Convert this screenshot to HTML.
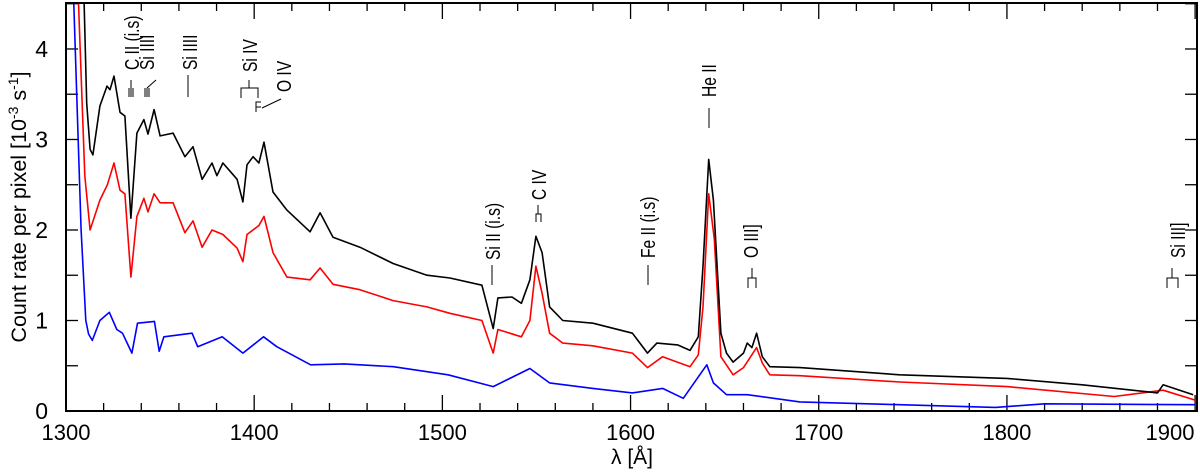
<!DOCTYPE html>
<html><head><meta charset="utf-8"><style>
html,body{margin:0;padding:0;background:#fff;}
svg{display:block;font-family:"Liberation Sans",sans-serif;}
.ann{font-family:"Liberation Sans",sans-serif;font-size:19px;fill:#000;}
</style></head><body>
<svg id="chart" width="1200" height="475" viewBox="0 0 1200 475">
<g id="grid"></g>
<g id="series"></g>
<g id="ann"></g>
<rect x="66" y="3" width="1131" height="408" fill="none" stroke="#000" stroke-width="2"/>
<text x="632" y="464" font-size="21" text-anchor="middle">λ [Å]</text>
<text transform="translate(26,207) rotate(-90)" font-size="21.5" text-anchor="middle">Count rate per pixel  [10<tspan dy="-8" font-size="14">-3</tspan><tspan dy="8"> s</tspan><tspan dy="-8" font-size="14">-1</tspan><tspan dy="8">]</tspan></text>
</svg>
<script>
const xTicks=[1300,1400,1500,1600,1700,1800,1900];
const yTicks=[0,1,2,3,4];
const blackLam=[1309.5,1311,1312.8,1314.3,1318,1321.8,1323.4,1325.5,1328.7,1331.3,1334.5,1337.7,1341.4,1343.6,1346.8,1350,1356.9,1363.2,1367.5,1372.3,1377.6,1380.2,1383.4,1390.9,1394,1396.2,1399.4,1402.5,1405.2,1410,1417.4,1429.7,1435,1441.9,1456.2,1473.8,1491.8,1504,1521,1527,1529.5,1537,1542,1546.5,1549.7,1553,1557,1564,1580,1601,1609,1614,1625,1631.6,1636,1638.5,1641.5,1644,1648,1651,1654.5,1660,1662,1664.5,1667,1670,1674,1690,1743,1800,1840,1880,1883,1899];
const blackVal=[4.6,3.4,2.89,2.83,3.37,3.59,3.55,3.7,3.3,3.26,2.13,3.07,3.22,3.06,3.33,3.04,3.07,2.81,2.92,2.56,2.74,2.6,2.74,2.56,2.31,2.72,2.81,2.74,2.97,2.42,2.22,1.98,2.19,1.92,1.81,1.63,1.5,1.47,1.39,0.91,1.25,1.26,1.19,1.45,1.93,1.75,1.15,1.0,0.97,0.86,0.64,0.75,0.73,0.67,0.82,1.6,2.78,2.33,0.86,0.64,0.54,0.64,0.75,0.7,0.86,0.6,0.49,0.48,0.4,0.36,0.29,0.2,0.29,0.18];
const redLam=[1306.5,1310,1312.8,1318,1322,1325.5,1328.7,1331.3,1334.5,1337.7,1341.4,1343.6,1346.8,1350,1356.9,1363.2,1367.5,1372.3,1377.6,1383.4,1390.9,1394,1396.2,1402.5,1405.2,1410,1417.4,1429.7,1435,1441.9,1456.2,1473.8,1491.8,1504,1521,1527,1529.5,1542,1546.5,1549.7,1553,1557,1564,1580,1601,1609,1617,1631.6,1636,1638.5,1641.5,1644.5,1648,1654.5,1660,1667,1670,1674,1690,1743,1800,1857,1883,1900];
const redVal=[4.6,2.6,2.0,2.33,2.5,2.74,2.44,2.4,1.48,2.15,2.35,2.2,2.4,2.3,2.3,1.97,2.1,1.81,2.0,1.95,1.8,1.65,1.95,2.05,2.15,1.75,1.48,1.45,1.58,1.4,1.34,1.22,1.15,1.08,1.0,0.64,0.9,0.82,1.0,1.6,1.3,0.86,0.75,0.72,0.64,0.48,0.6,0.49,0.62,1.15,2.4,1.9,0.6,0.4,0.48,0.7,0.53,0.4,0.39,0.32,0.27,0.16,0.23,0.12];
const blueLam=[1304,1308,1310.5,1312,1314,1318,1323,1327,1330,1335,1338,1347,1349.5,1352,1367,1370,1383,1394,1405,1412,1430,1448,1474,1503,1527,1546.5,1557,1580,1601,1617,1628,1640.5,1644,1651,1662,1690,1743,1794,1820,1900];
const blueVal=[4.6,2.0,1.0,0.85,0.78,1.0,1.09,0.9,0.86,0.64,0.97,0.99,0.66,0.82,0.86,0.71,0.82,0.64,0.82,0.71,0.51,0.52,0.49,0.4,0.27,0.47,0.31,0.25,0.2,0.25,0.14,0.51,0.31,0.18,0.18,0.1,0.07,0.04,0.08,0.07];
const X0=66,X1=1197,Y0=411,Y1=3,LMIN=1300,LMAX=1901,VMAX=4.508;
function xs(l){return X0+(l-LMIN)/(LMAX-LMIN)*(X1-X0);}
function ys(v){return Y0-v/VMAX*(Y0-Y1);}
const NS='http://www.w3.org/2000/svg';
function mk(tag,attrs,parent){const e=document.createElementNS(NS,tag);for(const k in attrs)e.setAttribute(k,attrs[k]);parent.appendChild(e);return e;}
const grid=document.getElementById('grid');
for(let l=1300;l<=1900;l+=20){const major=(l%100===0);const x=xs(l);
 const t=mk('line',{x1:x,x2:x,y1:Y0,y2:Y0-(major?16:8),stroke:'#000','stroke-width':1.3},grid);
 
 
 const t2=mk('line',{x1:x,x2:x,y1:Y1,y2:Y1+(major?16:8),stroke:'#000','stroke-width':1.3},grid);
 
 }
xTicks.forEach(l=>{let x=xs(l);if(l===1900)x=1170;const t=mk('text',{x:x,y:440,'font-size':22,'text-anchor':'middle'},grid);t.textContent=l;
 
 });
for(let v=0.5;v<=4.5;v+=0.5){const y=ys(v);
 const t=mk('line',{x1:X0,x2:X0+12,y1:y,y2:y,stroke:'#000','stroke-width':1.3},grid);
 
 
 const t2=mk('line',{x1:X1-12,x2:X1,y1:y,y2:y,stroke:'#000','stroke-width':1.3},grid);
 
 }
yTicks.forEach(v=>{const t=mk('text',{x:48,y:ys(v)+8,'font-size':23,'text-anchor':'end'},grid);t.textContent=v;
 
 });
const ser=document.getElementById('series');
const cp=mk('clipPath',{id:'clip'},ser);mk('rect',{x:X0,y:Y1,width:X1-X0,height:Y0-Y1},cp);
function draw(lam,val,color,name){const d=lam.map((l,i)=>(i?'L':'M')+xs(l).toFixed(1)+','+ys(val[i]).toFixed(1)).join('');
 const p=mk('path',{d:d,fill:'none',stroke:color,'stroke-width':1.6,'stroke-linejoin':'round','clip-path':'url(#clip)'},ser);
 
 }
draw(blueLam,blueVal,'#0000ff','spectrum-blue');
draw(redLam,redVal,'#ff0000','spectrum-red');
draw(blackLam,blackVal,'#000000','spectrum-black');
</script>
<script>
(function(){
const NS='http://www.w3.org/2000/svg';const g=document.getElementById('ann');
const labels=[["C II (i.s)",132,70],["Si IIII",147,70],["Si IIII",190,70],["Si IV",250,72],["O IV",284,92],["Si II (i.s)",493,260],["C IV",539,200],["Fe II (i.s)",648,258],["He II",709,97],["O III]",751,258],["Si III]",1178,258]];
labels.forEach(a=>{const t=document.createElementNS(NS,'text');t.setAttribute('class','ann');t.setAttribute('transform','translate('+(a[1]+7)+','+a[2]+') rotate(-90) scale(0.82,1.05)');t.textContent=a[0];
 
 
 g.appendChild(t);});
const paths=["M131,80V97M129,88V97M133,88V97","M145,97V88M147,97V88M149,97V88M147,88L156,80","M188,75V97","M241,98V88H258V98M249,88V80","M256,112V102H261M256,107H261M262,108L281,99","M492,265V285","M536,222V214H541V222M538,214V205","M648,265V285","M709,108V128","M748,288V278H756V288M752,278V268","M1167,288V278H1178V288M1172,278V268"];
paths.forEach(d=>{const p=document.createElementNS(NS,'path');p.setAttribute('d',d);p.setAttribute('fill','none');p.setAttribute('stroke','#000');p.setAttribute('stroke-width','1');
 
 
 g.appendChild(p);});
})();
</script>
</body></html>
